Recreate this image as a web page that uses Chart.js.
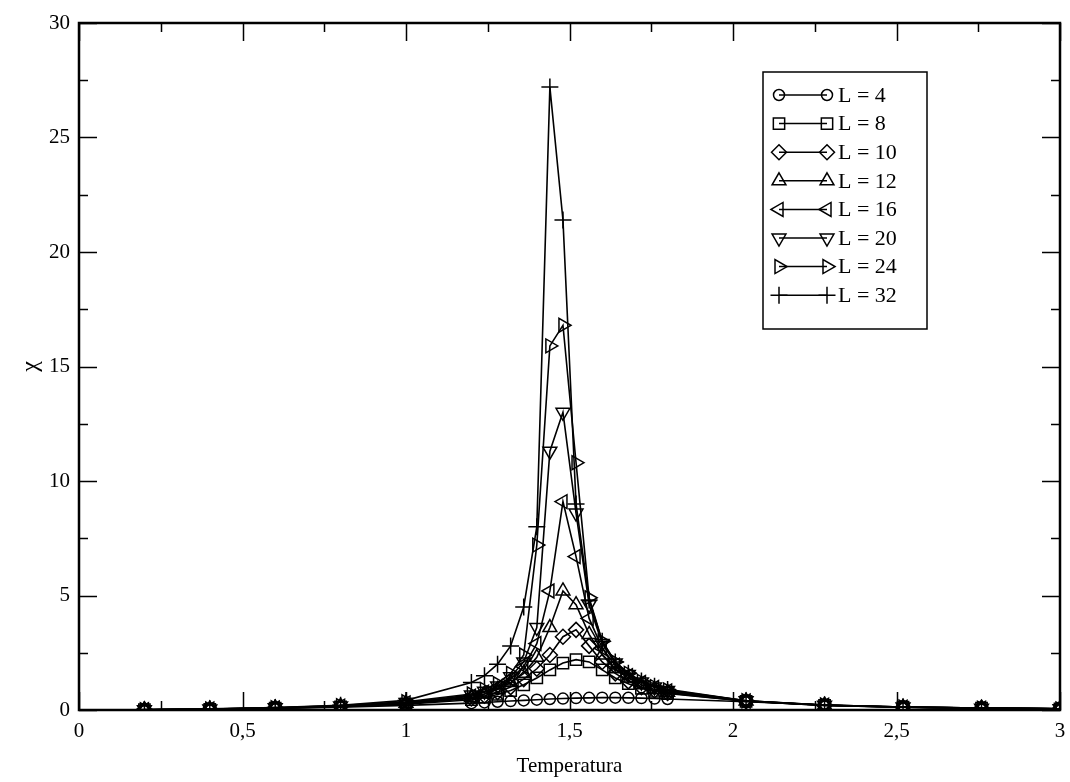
<!DOCTYPE html>
<html>
  <head>
    <meta charset="utf-8">
    <title>Susceptibilidade</title>
    <script src="https://cdn.jsdelivr.net/npm/chart.js@4.4.1/dist/chart.umd.min.js"></script>
    <style>
      body { margin: 0; background: #fff; }
      canvas { display: block; }
    </style>
  </head>
  <body>
    <canvas id="chiChart" width="1070" height="782"></canvas>

    <script>
      // temperatures shared by every lattice size
      const temperaturas = [0.2, 0.4, 0.6, 0.8, 1.0,
        1.20, 1.24, 1.28, 1.32, 1.36, 1.40, 1.44, 1.48, 1.52, 1.56, 1.60, 1.64, 1.68, 1.72, 1.76, 1.80,
        2.04, 2.28, 2.52, 2.76, 3.0];

      // susceptibility chi for each L
      const chiL4  = [0.01, 0.03, 0.07, 0.12, 0.20,
        0.30, 0.33, 0.36, 0.39, 0.42, 0.45, 0.48, 0.50, 0.52, 0.53, 0.54, 0.54, 0.53, 0.52, 0.50, 0.48,
        0.36, 0.22, 0.13, 0.08, 0.05];
      const chiL8  = [0.01, 0.03, 0.08, 0.14, 0.25,
        0.45, 0.55, 0.68, 0.85, 1.10, 1.40, 1.75, 2.05, 2.20, 2.10, 1.75, 1.40, 1.15, 0.95, 0.82, 0.72,
        0.38, 0.20, 0.12, 0.08, 0.05];
      const chiL10 = [0.01, 0.03, 0.08, 0.15, 0.27,
        0.50, 0.62, 0.78, 1.00, 1.35, 1.80, 2.40, 3.20, 3.50, 2.80, 2.10, 1.60, 1.25, 1.00, 0.85, 0.74,
        0.38, 0.20, 0.12, 0.08, 0.05];
      const chiL12 = [0.01, 0.04, 0.09, 0.16, 0.29,
        0.55, 0.70, 0.90, 1.20, 1.60, 2.30, 3.60, 5.20, 4.60, 3.30, 2.40, 1.80, 1.40, 1.10, 0.90, 0.78,
        0.39, 0.21, 0.12, 0.08, 0.05];
      const chiL16 = [0.01, 0.04, 0.09, 0.17, 0.31,
        0.60, 0.78, 1.00, 1.35, 1.90, 2.90, 5.20, 9.10, 6.70, 4.00, 2.70, 1.95, 1.50, 1.20, 0.98, 0.83,
        0.39, 0.21, 0.12, 0.08, 0.05];
      const chiL20 = [0.01, 0.04, 0.10, 0.18, 0.33,
        0.65, 0.82, 1.05, 1.45, 2.10, 3.60, 11.3, 13.0, 8.60, 4.60, 2.90, 2.05, 1.55, 1.22, 1.00, 0.85,
        0.40, 0.21, 0.13, 0.08, 0.05];
      const chiL24 = [0.01, 0.04, 0.10, 0.19, 0.36,
        0.70, 0.90, 1.15, 1.60, 2.40, 7.20, 15.9, 16.8, 10.8, 4.90, 3.00, 2.10, 1.60, 1.25, 1.02, 0.87,
        0.40, 0.22, 0.13, 0.08, 0.05];
      const chiL32 = [0.02, 0.05, 0.11, 0.21, 0.42,
        1.20, 1.50, 2.00, 2.80, 4.50, 8.00, 27.2, 21.4, 9.00, 4.80, 3.00, 2.10, 1.60, 1.27, 1.04, 0.90,
        0.40, 0.22, 0.13, 0.08, 0.05];

      const tamanhos = ['L = 4', 'L = 8', 'L = 10', 'L = 12', 'L = 16', 'L = 20', 'L = 24', 'L = 32'];
      const series = [chiL4, chiL8, chiL10, chiL12, chiL16, chiL20, chiL24, chiL32];

      // symbol for each L (grace style open markers)
      const simbolos = [
        { pointStyle: 'circle',   radius: 5.5, rotation: 0 },
        { pointStyle: 'rect',     radius: 8,   rotation: 0 },
        { pointStyle: 'rectRot',  radius: 7.5, rotation: 0 },
        { pointStyle: 'triangle', radius: 8,   rotation: 0 },
        { pointStyle: 'triangle', radius: 8,   rotation: -90 },
        { pointStyle: 'triangle', radius: 8,   rotation: 180 },
        { pointStyle: 'triangle', radius: 8,   rotation: 90 },
        { pointStyle: 'cross',    radius: 8.5, rotation: 0 }
      ];

      const fonte = '"Liberation Serif", "DejaVu Serif", serif';
      const virgula = v => String(v).replace('.', ',');

      const datasets = series.map((valores, i) => ({
        label: tamanhos[i],
        data: temperaturas.map((t, k) => ({ x: t, y: valores[k] })),
        borderColor: '#000',
        borderWidth: 1.6,
        tension: 0,
        fill: false,
        pointStyle: simbolos[i].pointStyle,
        pointRadius: simbolos[i].radius,
        pointRotation: simbolos[i].rotation,
        pointBorderColor: '#000',
        pointBorderWidth: 1.5,
        pointBackgroundColor: 'rgba(0,0,0,0)'
      }));

      // frame plus inward ticks on all four sides
      const moldura = {
        id: 'moldura',
        afterDatasetsDraw(chart) {
          const ctx = chart.ctx;
          const a = chart.chartArea;
          const xs = chart.scales.x, ys = chart.scales.y;
          ctx.save();
          ctx.strokeStyle = '#000';
          ctx.lineWidth = 1.5;
          for (let t = 0; t <= 3.0001; t += 0.25) {
            const px = Math.round(xs.getPixelForValue(t)) + 0.5;
            const len = (Math.round(t * 4) % 2 === 0) ? 18 : 9;
            ctx.beginPath();
            ctx.moveTo(px, a.bottom); ctx.lineTo(px, a.bottom - len);
            ctx.moveTo(px, a.top); ctx.lineTo(px, a.top + len);
            ctx.stroke();
          }
          for (let v = 0; v <= 30.001; v += 2.5) {
            const py = Math.round(ys.getPixelForValue(v)) + 0.5;
            const len = (Math.round(v * 2) % 10 === 0) ? 18 : 9;
            ctx.beginPath();
            ctx.moveTo(a.left, py); ctx.lineTo(a.left + len, py);
            ctx.moveTo(a.right, py); ctx.lineTo(a.right - len, py);
            ctx.stroke();
          }
          ctx.lineWidth = 2.5;
          ctx.strokeRect(a.left, a.top, a.right - a.left, a.bottom - a.top);
          ctx.restore();
        }
      };

      // boxed legend: symbol - line - symbol, then the label
      const legenda = {
        id: 'legenda',
        afterDraw(chart) {
          const ctx = chart.ctx;
          const box = { x: 763, y: 72, w: 164, h: 257 };
          ctx.save();
          ctx.fillStyle = '#fff';
          ctx.fillRect(box.x, box.y, box.w, box.h);
          ctx.strokeStyle = '#000';
          ctx.lineWidth = 1.5;
          ctx.strokeRect(box.x, box.y, box.w, box.h);
          ctx.font = '22px ' + fonte;
          ctx.textBaseline = 'middle';
          tamanhos.forEach((nome, i) => {
            const y = 95 + i * 28.6;
            ctx.lineWidth = 1.5;
            ctx.beginPath();
            ctx.moveTo(779, y); ctx.lineTo(827, y);
            ctx.stroke();
            const opts = {
              pointStyle: simbolos[i].pointStyle,
              radius: simbolos[i].radius,
              rotation: simbolos[i].rotation,
              borderWidth: 1.5
            };
            ctx.fillStyle = 'rgba(0,0,0,0)';
            [779, 827].forEach(px => {
              ctx.beginPath();
              Chart.helpers.drawPoint(ctx, opts, px, y);
            });
            ctx.fillStyle = '#000';
            ctx.fillText(nome, 838, y + 1);
          });
          ctx.restore();
        }
      };

      new Chart(document.getElementById('chiChart'), {
        type: 'line',
        data: { datasets: datasets },
        options: {
          responsive: false,
          animation: false,
          layout: { padding: { top: 23, right: 10, left: 0, bottom: 0 } },
          plugins: { legend: { display: false }, tooltip: { enabled: false } },
          scales: {
            x: {
              type: 'linear',
              min: 0, max: 3,
              grid: { display: false, drawTicks: false },
              border: { display: false },
              ticks: { stepSize: 0.5, padding: 9, color: '#000', font: { family: fonte, size: 21 }, callback: virgula },
              title: { display: true, text: 'Temperatura', color: '#000', font: { family: fonte, size: 21 }, padding: { top: 0, bottom: 3 } },
              afterFit(scale) {
                scale.height = 72;
                scale.paddingLeft = 0;
                scale.paddingRight = 0;
              }
            },
            y: {
              min: 0, max: 30,
              grid: { display: false, drawTicks: false },
              border: { display: false },
              ticks: { stepSize: 5, padding: 9, color: '#000', font: { family: fonte, size: 21 }, callback: virgula },
              title: { display: true, text: 'χ', color: '#000', font: { family: fonte, size: 24 }, padding: { top: 16, bottom: 0 } },
              afterFit(scale) {
                scale.width = 79;
                scale.paddingTop = 0;
                scale.paddingBottom = 0;
              }
            }
          }
        },
        plugins: [moldura, legenda]
      });
    </script>
  </body>
</html>
